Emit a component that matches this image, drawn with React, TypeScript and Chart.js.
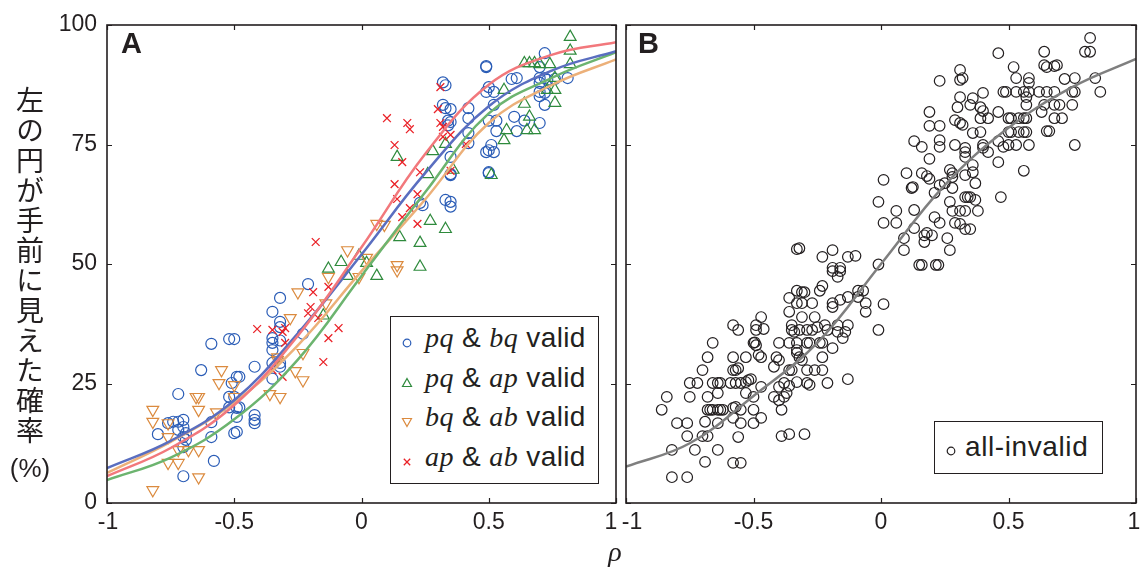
import React, { useEffect, useRef } from 'react';
import { Chart, registerables } from 'chart.js';

Chart.register(...registerables);

const INK = '#231f20';
const SANS = '"Liberation Sans", Arial, Helvetica, sans-serif';
const SERIF = '"Liberation Serif", "Times New Roman", serif';

const RHO_TICKS = [-1, -0.5, 0, 0.5, 1];
const PCT_TICKS = [0, 25, 50, 75, 100];

// fitted curves at these rho values
const FIT_RHO = [-1, -0.75, -0.5, -0.25, 0, 0.25, 0.5, 0.75, 1];
const FIT_PQBQ = [7.3, 13, 21.5, 35.5, 52, 69, 83, 90.5, 94.5];
const FIT_PQAP = [4.8, 9.5, 17.5, 30, 47.5, 65, 81.5, 89, 94.3];
const FIT_BQAB = [6.3, 12.8, 21, 33, 48.5, 63.5, 79.5, 87.5, 92.8];
const FIT_APAB = [5.6, 11.5, 20.5, 35, 53.5, 73, 87.5, 93.8, 96.4];
const FIT_ALL_INVALID = [7.6, 12.5, 22.4, 33.5, 50, 66.5, 78.5, 87, 92.9];

type Pt = [number, number];

const PQBQ_VALID: Pt[] = [
  [-0.21, 45.8], [-0.32, 42.9], [-0.35, 40], [-0.32, 37.9], [-0.32, 36.8], [-0.35, 34.5], [-0.35, 33.5],
  [-0.32, 34], [-0.35, 32], [-0.35, 29.3], [-0.32, 29.3], [-0.32, 28.5], [-0.35, 26], [-0.23, 35.4],
  [-0.42, 28.5], [-0.52, 34.3], [-0.5, 34.3], [-0.59, 33.3], [-0.63, 27.8], [-0.72, 22.8], [-0.51, 25.1],
  [-0.49, 26.4], [-0.48, 26.4], [-0.52, 22.2], [-0.5, 22.2], [-0.52, 20], [-0.49, 19.9], [-0.48, 20],
  [-0.49, 18], [-0.42, 18.4], [-0.42, 17.4], [-0.42, 16.7], [-0.5, 14.6], [-0.49, 14.9], [-0.59, 16.9],
  [-0.59, 13.8], [-0.58, 8.8], [-0.7, 17.4], [-0.72, 17], [-0.74, 17], [-0.76, 16.7], [-0.7, 15.9],
  [-0.69, 14.6], [-0.7, 13.8], [-0.69, 13.2], [-0.72, 15.3], [-0.8, 14.4], [-0.7, 11.7], [-0.7, 5.6],
  [0.32, 88], [0.33, 87.4], [0.32, 83.3], [0.33, 82.6], [0.35, 82.4], [0.34, 80], [0.35, 79.7], [0.34, 79],
  [0.42, 82.6], [0.42, 80.5], [0.42, 77.4], [0.42, 75.3], [0.35, 72.4], [0.35, 68.6], [0.49, 91.4],
  [0.49, 91.2], [0.5, 87], [0.49, 86], [0.52, 86], [0.52, 83.3], [0.5, 80], [0.53, 80], [0.53, 77.8],
  [0.51, 74.9], [0.5, 73.8], [0.49, 73.4], [0.52, 73.4], [0.5, 69.2], [0.5, 69], [0.59, 88.7], [0.61, 88.9],
  [0.6, 80.8], [0.61, 77.8], [0.64, 80], [0.7, 79.5], [0.72, 94.1], [0.7, 91.2], [0.7, 88.9], [0.72, 88.9],
  [0.73, 88.5], [0.7, 87.9], [0.81, 88.9], [0.7, 86], [0.72, 85.8], [0.7, 85.1], [0.72, 83.3], [0.76, 88.7],
  [0.33, 63.4], [0.35, 63], [0.35, 62], [0.23, 62.8], [0.24, 62.3], [0.35, 68.8],
];

const PQAP_VALID: Pt[] = [
  [0.82, 97.5], [0.82, 94.6], [0.82, 91.8], [0.64, 92], [0.66, 92], [0.68, 92], [0.7, 91.8], [0.74, 91.8],
  [0.76, 88.9], [0.73, 86.4], [0.76, 86.4], [0.76, 83.7], [0.64, 83.5], [0.66, 80.8], [0.65, 78], [0.68, 78],
  [0.56, 86.4], [0.57, 78], [0.56, 75.9], [0.51, 68.6], [0.33, 75.1], [0.28, 73.6], [0.14, 72.4],
  [0.36, 69.7], [0.26, 68.8], [0.27, 59], [0.33, 57.3], [0.15, 55.6], [0.23, 54.4], [0.23, 49.4],
  [0.06, 47.5], [0.02, 50.2], [-0.01, 51.7], [-0.055, 47.5], [-0.08, 50.4], [-0.13, 49], [-0.15, 39.2],
];

const BQAB_VALID: Pt[] = [
  [0.06, 58.4], [0.09, 58.2], [-0.055, 52.9], [0.02, 51.3], [-0.01, 47.3], [-0.13, 47.3], [0.14, 49.8],
  [0.14, 48.7], [-0.25, 44.1], [-0.28, 38.7], [-0.23, 31.4], [-0.26, 27.6], [-0.23, 25.7], [-0.36, 22.8],
  [-0.32, 22.2], [-0.33, 30.5], [-0.33, 29.9], [-0.55, 27.8], [-0.56, 25.1], [-0.5, 24.7], [-0.5, 22.2],
  [-0.14, 41.8], [-0.57, 19], [-0.65, 22.2], [-0.64, 22.2], [-0.64, 19.5], [-0.76, 16.7], [-0.76, 13.8],
  [-0.82, 19.5], [-0.82, 17], [-0.72, 11.1], [-0.68, 11.1], [-0.64, 11.1], [-0.76, 8.4], [-0.72, 8.4],
  [-0.64, 5.4], [-0.82, 2.7],
];

const APAB_VALID: Pt[] = [
  [0.31, 87], [0.3, 82.4], [0.1, 80.5], [0.18, 79.5], [0.19, 78.2], [0.31, 79.5], [0.32, 78.7], [0.32, 76.6],
  [0.35, 77], [0.13, 74.9], [0.16, 71.3], [0.41, 75.1], [0.35, 69.5], [0.23, 69.2], [0.13, 66.7],
  [0.14, 63.6], [0.22, 64.6], [0.19, 61.7], [0.16, 59.8], [0.22, 58.4], [-0.18, 54.6], [-0.13, 45.2],
  [-0.19, 44.1], [-0.41, 36.4], [-0.35, 36.2], [-0.3, 36.6], [-0.31, 35.8], [-0.3, 33.5], [-0.2, 41],
  [-0.21, 39.7], [-0.17, 38.7], [-0.13, 34.5], [-0.15, 29.5], [-0.35, 27.8], [-0.31, 26.4], [-0.09, 36.6],
];

const ALL_INVALID: Pt[] = [
  [-0.33, 53.1], [-0.32, 53.3], [-0.23, 51.5], [-0.19, 52.9], [-0.13, 51.5], [-0.1, 51.7], [-0.19, 49.2],
  [-0.16, 49.2], [-0.01, 63], [0.01, 67.6], [0.01, 58.6], [-0.01, 49.9],
  [0.82, 97.3], [0.8, 94.4], [0.82, 94.4], [0.64, 94.4], [0.46, 94.1], [0.64, 91.6], [0.65, 91.2],
  [0.68, 91.4], [0.69, 91.6], [0.52, 91.2], [0.31, 90.6], [0.31, 88.5], [0.32, 88.9], [0.23, 88.3],
  [0.53, 88.9], [0.58, 88.9], [0.58, 87.9], [0.72, 88.7], [0.76, 88.9], [0.84, 88.9], [0.86, 86],
  [0.48, 86], [0.49, 86], [0.53, 86], [0.56, 86], [0.58, 86], [0.62, 86], [0.65, 86], [0.68, 86],
  [0.75, 86], [0.76, 86], [0.4, 85.8], [0.36, 84.7], [0.31, 84.9], [0.57, 84.9], [0.3, 82.8], [0.35, 83.3],
  [0.39, 82.8], [0.4, 82], [0.39, 80.5], [0.42, 80.5], [0.57, 83.3], [0.64, 83.3], [0.68, 83.3], [0.7, 83.3],
  [0.75, 83.3], [0.63, 81.8], [0.68, 80.5], [0.71, 80.5], [0.19, 81.8], [0.46, 81.8], [0.5, 80.5],
  [0.51, 80.5], [0.54, 80.5], [0.56, 80.5], [0.57, 80.5], [0.29, 80.1], [0.31, 79.5], [0.32, 79.1],
  [0.19, 78.9], [0.23, 78.9], [0.5, 77.6], [0.51, 77.6], [0.54, 77.6], [0.56, 77.6], [0.57, 77.6],
  [0.65, 77.8], [0.66, 77.8], [0.36, 77.4], [0.39, 77.6], [0.13, 75.7], [0.23, 75.9], [0.16, 74.5],
  [0.23, 74.5], [0.29, 74.9], [0.33, 74.3], [0.33, 73.4], [0.4, 74.9], [0.4, 74.3], [0.42, 73.4],
  [0.46, 75.7], [0.48, 74.5], [0.5, 74.9], [0.53, 74.9], [0.58, 74.9], [0.76, 74.9], [0.33, 72.4],
  [0.19, 72], [0.46, 71.3], [0.36, 70.7], [0.56, 69.5], [0.27, 69.7], [0.28, 69], [0.28, 68.2], [0.36, 69.2],
  [0.33, 68.6], [0.1, 69], [0.16, 69], [0.18, 68.4], [0.19, 67.8], [0.37, 66.9], [0.12, 65.9],
  [0.125, 66.1], [0.23, 66.5], [0.25, 66.9], [0.21, 64.9], [0.28, 65.9], [0.47, 64], [0.33, 64], [0.34, 64],
  [0.35, 64], [0.37, 63.4], [0.27, 63], [0.06, 61.1], [0.13, 61.3], [0.28, 61.1], [0.31, 61.1],
  [0.33, 61.1], [0.38, 61.1], [0.06, 58.6], [0.13, 57.5], [0.21, 59.8], [0.23, 58.6], [0.29, 58.6],
  [0.31, 58.4], [0.33, 57.3], [0.35, 57.3], [0.17, 56], [0.18, 56.5], [0.2, 56], [0.17, 54.6], [0.09, 55.4],
  [0.26, 55.4], [0.09, 52.9], [0.27, 52.9], [0.15, 49.8], [0.16, 49.8], [0.215, 49.8], [0.225, 49.8],
  [-0.19, 48.5], [-0.16, 48.5], [-0.17, 47.3], [-0.23, 45.4], [-0.24, 44.4], [-0.33, 44.4], [-0.31, 44.1],
  [-0.3, 44.1], [-0.36, 42.9], [-0.36, 40], [-0.33, 41.8], [-0.31, 41.8], [-0.27, 41.8], [-0.13, 43.1],
  [-0.09, 44.4], [-0.07, 44.4], [-0.09, 43.1], [-0.06, 41.8], [-0.06, 40], [-0.19, 41.8], [-0.19, 41],
  [-0.16, 42.5], [0.01, 41.6], [-0.31, 38.9], [-0.26, 38.9], [-0.01, 36.2], [-0.35, 37.2], [-0.35, 36.2],
  [-0.32, 36.2], [-0.34, 35.8], [-0.29, 36.2], [-0.27, 36.2], [-0.22, 37.2], [-0.21, 36.2], [-0.17, 37.2],
  [-0.13, 37.2], [-0.14, 35.8], [-0.15, 34.5], [-0.17, 35.8], [-0.25, 36.8], [-0.4, 33.5], [-0.36, 33.5],
  [-0.33, 33.5], [-0.29, 33.5], [-0.28, 33.5], [-0.24, 33.5], [-0.23, 33.5], [-0.19, 32.4], [-0.33, 32],
  [-0.33, 31.4], [-0.32, 30.5], [-0.31, 29.9], [-0.41, 30.5], [-0.4, 29.9], [-0.23, 30.5], [-0.42, 28.5],
  [-0.36, 27.8], [-0.35, 27.8], [-0.29, 27.8], [-0.26, 27.8], [-0.23, 27.8], [-0.13, 25.9], [-0.38, 25.1],
  [-0.36, 24.5], [-0.33, 25.3], [-0.29, 25.1], [-0.28, 24.7], [-0.21, 25.1], [-0.4, 24.3], [-0.42, 22.2],
  [-0.4, 21.5], [-0.38, 22.2], [-0.37, 23], [-0.39, 19.5], [-0.39, 14], [-0.36, 14.4], [-0.3, 14.4],
  [-0.47, 38.9], [-0.46, 36.4], [-0.49, 37.2], [-0.49, 36.2], [-0.5, 33.5], [-0.495, 33.6], [-0.49, 33],
  [-0.48, 31], [-0.47, 30.5], [-0.53, 30.5], [-0.58, 37.2], [-0.56, 36.2], [-0.58, 30.5], [-0.57, 27.8],
  [-0.56, 28.2], [-0.58, 27.8], [-0.59, 25.1], [-0.57, 25.1], [-0.55, 25.1], [-0.53, 25.3], [-0.52, 25.7],
  [-0.51, 25.9], [-0.53, 23], [-0.5, 22.2], [-0.47, 24.3], [-0.58, 19.9], [-0.57, 20.1], [-0.55, 19.5],
  [-0.5, 19.5], [-0.5, 16.7], [-0.47, 17.8], [-0.58, 17.8], [-0.55, 16.7], [-0.56, 13.8], [-0.58, 8.4],
  [-0.55, 8.4], [-0.68, 30.5], [-0.66, 33.5], [-0.7, 27.8], [-0.75, 25.1], [-0.72, 25.1], [-0.66, 25.1],
  [-0.64, 25.1], [-0.63, 25.1], [-0.64, 23], [-0.68, 22.2], [-0.75, 22.2], [-0.84, 22.2], [-0.86, 19.5],
  [-0.68, 19.5], [-0.67, 19.5], [-0.66, 19.5], [-0.64, 19.5], [-0.63, 19.5], [-0.62, 19.5], [-0.69, 17],
  [-0.64, 16.7], [-0.8, 16.7], [-0.76, 16.7], [-0.76, 14], [-0.7, 14], [-0.68, 14], [-0.82, 11.1],
  [-0.73, 11.1], [-0.64, 11.1], [-0.69, 8.6], [-0.82, 5.4], [-0.76, 5.4],
];

const BLUE = '#2a5cb6';
const GREEN = '#2e8a3c';
const ORANGE = '#db8a3e';
const RED = '#ea2228';
const BLUE_LINE = '#5a6ec0';
const GREEN_LINE = '#6cb46f';
const ORANGE_LINE = '#ecb079';
const RED_LINE = '#f2787c';
const GRAY_LINE = '#7f7f7f';

const toXY = (pts: Pt[]) => pts.map(([x, y]) => ({ x, y }));
const fitXY = (ys: number[]) => FIT_RHO.map((x, i) => ({ x, y: ys[i] }));

const curve = (ys: number[], color: string) => ({
  type: 'line' as const,
  data: fitXY(ys),
  borderColor: color,
  borderWidth: 2.5,
  pointRadius: 0,
  fill: false,
  tension: 0.4,
});

const markers = (pts: Pt[], color: string, style: string, radius: number, rotation = 0, bw = 1.2) => ({
  type: 'scatter' as const,
  data: toXY(pts),
  borderColor: color,
  backgroundColor: 'rgba(0,0,0,0)',
  pointStyle: style,
  pointRadius: radius,
  pointRotation: rotation,
  pointBorderWidth: bw,
  borderWidth: bw,
});

function makeFramePlugin(firstShift: number, lastShift: number) {
  return {
    id: 'frameTicks',
    beforeDraw(chart: any) {
      const items = chart.scales.x.getLabelItems();
      if (items && items.length) {
        const f = items[0].options && items[0].options.translation;
        const l = items[items.length - 1].options && items[items.length - 1].options.translation;
        if (f && !items[0].__shifted) { f[0] += firstShift; items[0].__shifted = true; }
        if (l && !items[items.length - 1].__shifted) { l[0] += lastShift; items[items.length - 1].__shifted = true; }
      }
    },
    afterDatasetsDraw(chart: any) {
      const { ctx, chartArea: a, scales } = chart;
      const xs = scales.x;
      const ys = scales.y;
      const L = 5;
      ctx.save();
      ctx.strokeStyle = INK;
      ctx.lineWidth = 1.2;
      ctx.beginPath();
      RHO_TICKS.forEach((v) => {
        const px = Math.round(xs.getPixelForValue(v)) + 0.5;
        ctx.moveTo(px, a.bottom);
        ctx.lineTo(px, a.bottom - L);
        ctx.moveTo(px, a.top);
        ctx.lineTo(px, a.top + L);
      });
      PCT_TICKS.forEach((v) => {
        const py = Math.round(ys.getPixelForValue(v)) + 0.5;
        ctx.moveTo(a.left, py);
        ctx.lineTo(a.left + L, py);
        ctx.moveTo(a.right, py);
        ctx.lineTo(a.right - L, py);
      });
      ctx.stroke();
      ctx.lineWidth = 1.6;
      ctx.strokeRect(a.left, a.top, a.right - a.left, a.bottom - a.top);
      ctx.restore();
    },
  };
}

function buildOptions(yWidth: number, showY: boolean) {
  return {
    responsive: false,
    animation: false as const,
    events: [] as any[],
    layout: { padding: { left: 0, top: 25, right: 14, bottom: 0 } },
    plugins: { legend: { display: false }, tooltip: { enabled: false } },
    scales: {
      x: {
        type: 'linear' as const,
        min: -1,
        max: 1,
        afterBuildTicks: (s: any) => {
          s.ticks = RHO_TICKS.map((v) => ({ value: v }));
        },
        afterFit: (s: any) => {
          s.height = 69;
        },
        ticks: {
          autoSkip: false,
          maxRotation: 0,
          padding: 6,
          color: INK,
          font: { family: SANS, size: 23 },
          callback: (v: any) => String(v),
        },
        grid: { display: false, drawTicks: false },
        border: { display: false },
      },
      y: {
        type: 'linear' as const,
        min: 0,
        max: 100,
        afterBuildTicks: (s: any) => {
          s.ticks = PCT_TICKS.map((v) => ({ value: v }));
        },
        afterFit: (s: any) => {
          s.width = yWidth;
        },
        ticks: {
          display: showY,
          padding: 10,
          color: INK,
          font: { family: SANS, size: 23 },
          callback: (v: any) => String(v),
        },
        grid: { display: false, drawTicks: false },
        border: { display: false },
      },
    },
  };
}

function PanelChart(props: {
  left: number; width: number; yWidth: number; showY: boolean; datasets: any[]; firstShift: number; lastShift: number;
}) {
  const ref = useRef<HTMLCanvasElement | null>(null);
  useEffect(() => {
    if (!ref.current) return;
    const chart = new Chart(ref.current, {
      type: 'scatter',
      data: { datasets: props.datasets },
      options: buildOptions(props.yWidth, props.showY) as any,
      plugins: [makeFramePlugin(props.firstShift, props.lastShift)],
    });
    return () => chart.destroy();
  }, []);
  return (
    <canvas
      ref={ref}
      width={props.width}
      height={572}
      style={{ position: 'absolute', left: props.left, top: 0, width: props.width, height: 572 }}
    />
  );
}

const Sym = (p: { kind: string; color: string }) => (
  <svg width={14} height={14} style={{ position: 'absolute', left: -7, top: -7, overflow: 'visible' }}>
    {p.kind === 'circle' && <circle cx={7} cy={7} r={3.8} fill="none" stroke={p.color} strokeWidth={1.2} />}
    {p.kind === 'up' && <polygon points="7,2.5 11.5,10.5 2.5,10.5" fill="none" stroke={p.color} strokeWidth={1.2} />}
    {p.kind === 'down' && <polygon points="7,11.5 11.5,3.5 2.5,3.5" fill="none" stroke={p.color} strokeWidth={1.2} />}
    {p.kind === 'x' && (
      <path d="M3.8,3.8 L10.2,10.2 M10.2,3.8 L3.8,10.2" fill="none" stroke={p.color} strokeWidth={1.3} />
    )}
  </svg>
);

const LEGEND_A = [
  { kind: 'circle', color: BLUE, a: 'pq', b: 'bq', base: 348 },
  { kind: 'up', color: GREEN, a: 'pq', b: 'ap', base: 387.5 },
  { kind: 'down', color: ORANGE, a: 'bq', b: 'ab', base: 427 },
  { kind: 'x', color: RED, a: 'ap', b: 'ab', base: 466.5 },
];

export default function App() {
  const dsA = [
    curve(FIT_APAB, RED_LINE),
    curve(FIT_PQBQ, BLUE_LINE),
    curve(FIT_PQAP, GREEN_LINE),
    curve(FIT_BQAB, ORANGE_LINE),
    markers(APAB_VALID, RED, 'crossRot', 5.5, 0, 1.3),
    markers(BQAB_VALID, ORANGE, 'triangle', 6.8, 180),
    markers(PQAP_VALID, GREEN, 'triangle', 6.8, 0),
    markers(PQBQ_VALID, BLUE, 'circle', 5.5),
  ];
  const dsB = [curve(FIT_ALL_INVALID, GRAY_LINE), markers(ALL_INVALID, INK, 'circle', 5.3)];

  const textBase: React.CSSProperties = { position: 'absolute', color: INK, fontFamily: SANS, whiteSpace: 'nowrap' };
  const fs = 28;
  const lh = 38;

  return (
    <div style={{ position: 'absolute', left: 0, top: 0, width: 1141, height: 572, overflow: 'hidden', background: '#fff' }}>
      <PanelChart left={0} width={630} yWidth={107} showY={true} datasets={dsA} firstShift={1} lastShift={-5} />
      <PanelChart left={600} width={550} yWidth={26} showY={false} datasets={dsB} firstShift={6} lastShift={-2} />

      <div
        style={{
          ...textBase,
          left: 16,
          top: 86,
          writingMode: 'vertical-rl',
          textOrientation: 'upright',
          fontFamily: '"Noto Sans CJK JP", "Noto Sans CJK SC", sans-serif',
          fontSize: 28,
          lineHeight: '28px',
          letterSpacing: '2px',
        }}
      >
        左の円が手前に見えた確率
      </div>
      <div style={{ ...textBase, left: 0, width: 60, textAlign: 'center', top: 453, fontSize: 26, lineHeight: '30px' }}>(%)</div>

      <div style={{ ...textBase, left: 121, top: 28, fontSize: 29, lineHeight: '30px', fontWeight: 'bold' }}>A</div>
      <div style={{ ...textBase, left: 638, top: 28, fontSize: 29, lineHeight: '30px', fontWeight: 'bold' }}>B</div>

      <div style={{ ...textBase, left: 600, width: 30, textAlign: 'center', top: 535, fontSize: 28, lineHeight: '34px', fontFamily: SERIF, fontStyle: 'italic' }}>
        ρ
      </div>

      <div style={{ position: 'absolute', left: 390, top: 316, width: 209, height: 168, boxSizing: 'border-box', border: `1.5px solid ${INK}`, background: '#fff' }} />
      {LEGEND_A.map((r, i) => (
        <React.Fragment key={i}>
          <div style={{ position: 'absolute', left: 407, top: r.base - 5 }}>
            <Sym kind={r.kind} color={r.color} />
          </div>
          <div style={{ ...textBase, left: 425, top: r.base - (lh / 2 + 9.7), fontSize: fs, lineHeight: `${lh}px`, letterSpacing: '0.4px' }}>
            <span style={{ fontFamily: SERIF, fontStyle: 'italic' }}>{r.a}</span> &amp;{' '}
            <span style={{ fontFamily: SERIF, fontStyle: 'italic' }}>{r.b}</span> valid
          </div>
        </React.Fragment>
      ))}

      <div style={{ position: 'absolute', left: 934, top: 421, width: 169, height: 53, boxSizing: 'border-box', border: `1.5px solid ${INK}`, background: '#fff' }} />
      <div style={{ position: 'absolute', left: 951, top: 451 }}>
        <Sym kind="circle" color={INK} />
      </div>
      <div style={{ ...textBase, left: 965, top: 456.5 - (lh / 2 + 9.7), fontSize: fs, lineHeight: `${lh}px`, letterSpacing: '0.6px' }}>
        all-invalid
      </div>
    </div>
  );
}
